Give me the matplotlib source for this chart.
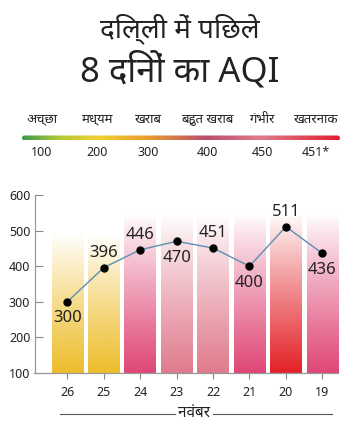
import numpy as np
import matplotlib
matplotlib.use('Agg')
import matplotlib.pyplot as plt
from matplotlib import font_manager, ft2font
from matplotlib.colors import LinearSegmentedColormap, to_rgb
from matplotlib.patches import FancyBboxPatch

# data
dates = ['26', '25', '24', '23', '22', '21', '20', '19']
aqi = [300, 396, 446, 470, 451, 400, 511, 436]
bar_top = [490, 490, 545, 545, 545, 545, 545, 545]
label_side = ['below', 'above', 'above', 'below', 'above', 'below', 'above', 'below']
bar_colors = ['#eebd2a', '#eebd2a', '#e04676', '#e07a8c', '#e07a8c', '#e04676', '#e32026', '#e04676']

scale_names = ['अच्छा', 'मध्यम', 'खराब', 'बहुत खराब', 'गंभीर', 'खतरनाक']
scale_values = ['100', '200', '300', '400', '450', '451*']
yticks = [100, 200, 300, 400, 500, 600]
title_1 = 'दिल्ली में पिछले'
title_2 = '8 दिनों का AQI'
month = 'नवंबर'


def find_devanagari():
    # look for any installed font with Devanagari glyphs, prefer sans ones
    found = []
    for f in font_manager.fontManager.ttflist:
        try:
            cmap = ft2font.FT2Font(f.fname).get_charmap()
        except Exception:
            continue
        if 0x0915 in cmap and 0x094D in cmap:
            found.append(f.name)
    def rank(n):
        low = n.lower()
        score = 0
        if 'mono' in low:
            score += 10
        if 'serif' in low:
            score += 5
        if 'sans' not in low:
            score += 1
        return score
    found = sorted(set(found), key=rank)
    return found[0] if found else None


deva = find_devanagari()
fams = ['Noto Sans', deva, 'DejaVu Sans'] if deva else ['Noto Sans', 'DejaVu Sans']
plt.rcParams['font.family'] = fams
txt = '#222222'

fig = plt.figure(figsize=(3.6, 4.34), dpi=100)

# overlay in pixel coords for title and scale
ax0 = fig.add_axes([0, 0, 1, 1])
ax0.set_xlim(0, 360)
ax0.set_ylim(434, 0)
ax0.axis('off')

ax0.text(180, 29, title_1, ha='center', va='center', fontsize=20, color=txt)
ax0.text(180, 71, title_2, ha='center', va='center', fontsize=25, color=txt)

for i, (nm, v) in enumerate(zip(scale_names, scale_values)):
    xc = [42, 97, 148, 207, 262, 316][i]
    ax0.text(xc, 119, nm, ha='center', va='center', fontsize=9.5, color=txt)
    ax0.text(xc, 153, v, ha='center', va='center', fontsize=9, color=txt)

scale_cmap = LinearSegmentedColormap.from_list('aqi', [
    (0.0, '#3a9a48'), (0.12, '#b8c83a'), (0.24, '#f0d030'), (0.40, '#e89a30'),
    (0.58, '#b8506e'), (0.75, '#e07c8c'), (1.0, '#e02030')])
grad = np.linspace(0, 1, 256).reshape(1, -1)
im = ax0.imshow(grad, cmap=scale_cmap, extent=(22, 340, 140.5, 135.5), aspect='auto', zorder=2)
clip = FancyBboxPatch((22, 135.5), 318, 5, boxstyle='round,pad=0,rounding_size=2.5',
                      transform=ax0.transData, facecolor='none', edgecolor='none')
ax0.add_patch(clip)
im.set_clip_path(clip)
ax0.set_xlim(0, 360)
ax0.set_ylim(434, 0)

# month label under the x axis
ax0.plot([60, 175], [414, 414], color='#555555', lw=0.8)
ax0.plot([213, 332], [414, 414], color='#555555', lw=0.8)
ax0.text(194, 414, month, ha='center', va='center', fontsize=11, color=txt)

# main chart
ax = fig.add_axes([34.5 / 360, 61 / 434, 303.5 / 360, 178 / 434])
ax.patch.set_alpha(0)
x = np.arange(len(dates))
w = 0.86
for xi, top, c in zip(x, bar_top, bar_colors):
    r, g, b = to_rgb(c)
    n = 200
    alpha = np.linspace(1, 0, n) ** 0.9
    rgba = np.zeros((n, 1, 4))
    rgba[:, 0, 0] = r
    rgba[:, 0, 1] = g
    rgba[:, 0, 2] = b
    rgba[:, 0, 3] = alpha
    ax.imshow(rgba, extent=(xi - w / 2, xi + w / 2, 100, top), origin='lower',
              aspect='auto', zorder=1)

ax.plot(x, aqi, color='#5a8fb0', lw=1, zorder=3)
ax.plot(x, aqi, 'o', color='black', ms=5, zorder=4)
for xi, v, side in zip(x, aqi, label_side):
    if side == 'above':
        ax.annotate(str(v), (xi, v), xytext=(0, 5), textcoords='offset points',
                    ha='center', va='bottom', fontsize=12, color=txt)
    else:
        ax.annotate(str(v), (xi, v), xytext=(0, -6), textcoords='offset points',
                    ha='center', va='top', fontsize=12, color=txt)

ax.set_xlim(-0.9, 7.43)
ax.set_ylim(100, 600)
ax.set_yticks(yticks)
ax.set_xticks(x)
ax.set_xticklabels(dates)
ax.tick_params(axis='both', colors='#888888', labelcolor=txt, labelsize=9, width=0.8)
ax.tick_params(axis='y', direction='in', length=6, pad=3)
ax.tick_params(axis='x', direction='out', length=4, pad=5)
for s in ['top', 'right']:
    ax.spines[s].set_visible(False)
for s in ['left', 'bottom']:
    ax.spines[s].set_color('#999999')
    ax.spines[s].set_linewidth(0.9)

fig.savefig('out.png', dpi=100)
